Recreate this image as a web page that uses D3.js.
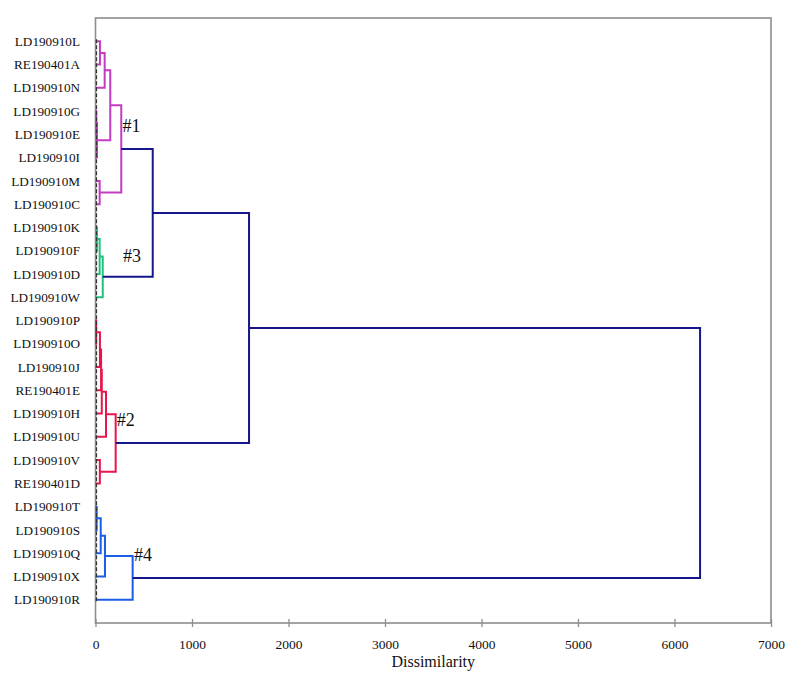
<!DOCTYPE html>
<html><head><meta charset="utf-8">
<script src="https://cdn.jsdelivr.net/npm/d3@7"></script>
<style>body{margin:0;background:#fff}svg{display:block}text{font-family:"Liberation Serif","Times New Roman",serif;fill:#111}</style>
</head><body><svg id="c" width="790" height="680"></svg>
<script>
// ---- data ----
const leaves = ["LD190910L","RE190401A","LD190910N","LD190910G","LD190910E","LD190910I","LD190910M","LD190910C",
  "LD190910K","LD190910F","LD190910D","LD190910W",
  "LD190910P","LD190910O","LD190910J","RE190401E","LD190910H","LD190910U","LD190910V","RE190401D",
  "LD190910T","LD190910S","LD190910Q","LD190910X","LD190910R"];
// merges: [childA, childB, dissimilarity, group]; children are leaf names or "m<index>"
const merges = [
  ["LD190910L","RE190401A",46,"c1"],
  ["m0","LD190910N",95,"c1"],
  ["LD190910G","LD190910E",8,"c1"],
  ["m2","LD190910I",15,"c1"],
  ["m1","m3",153,"c1"],
  ["LD190910M","LD190910C",43,"c1"],
  ["m4","m5",267,"c1"],
  ["LD190910K","LD190910F",15,"c3"],
  ["m7","LD190910D",43,"c3"],
  ["m8","LD190910W",75,"c3"],
  ["m6","m9",593,"top"],
  ["LD190910P","LD190910O",7,"c2"],
  ["m11","LD190910J",46,"c2"],
  ["m12","RE190401E",58,"c2"],
  ["m13","LD190910H",65,"c2"],
  ["m14","LD190910U",109,"c2"],
  ["LD190910V","RE190401D",45,"c2"],
  ["m15","m16",209,"c2"],
  ["m10","m17",1591,"top"],
  ["LD190910T","LD190910S",12,"c4"],
  ["m19","LD190910Q",54,"c4"],
  ["m20","LD190910X",98,"c4"],
  ["m21","LD190910R",385,"c4"],
  ["m18","m22",6265,"top"]
];
const groups = ["c1","c2","c3","c4","top"];
const groupColors = ["#c33bc3","#e8154b","#1fc17e","#1c5de6","#16168c"];
// cluster annotations: [text, dissimilarity, leaf-position (in leaf index units)]
const clusterLabels = [["#1",280,3.9],["#3",285,9.5],["#2",220,16.55],["#4",400,22.35]];
const xTicks = [0,1000,2000,3000,4000,5000,6000,7000];
const xTitle = "Dissimilarity";

// ---- layout ----
const svg = d3.select("#c");
const L = 95.5, R = 771, T = 18, B = 623;
const x = d3.scaleLinear().domain([0,7000]).range([L,R]);
const y = d3.scalePoint().domain(leaves).range([T,B]).padding(1);
const yIdx = d3.scaleLinear().domain([0,leaves.length-1]).range([y(leaves[0]), y(leaves[leaves.length-1])]);
const color = d3.scaleOrdinal().domain(groups).range(groupColors);

// frame
svg.append("rect").attr("x",L).attr("y",T).attr("width",R-L).attr("height",B-T)
  .attr("fill","none").attr("stroke","#8e8e8e").attr("stroke-width",1.6);

// axis
const ax = svg.append("g").attr("transform",`translate(0,${B})`)
  .call(d3.axisBottom(x).tickValues(xTicks).tickFormat(d3.format("d")).tickSize(4).tickPadding(12));
ax.select(".domain").remove();
ax.selectAll(".tick line").attr("stroke","#8e8e8e").attr("stroke-width",1.3).attr("y1",-4);
ax.selectAll(".tick text").style("font-size","13.5px").style("font-family","'Liberation Serif',serif").attr("fill","#111");
svg.append("text").attr("x",(L+R)/2).attr("y",667).attr("text-anchor","middle").style("font-size","16px").text(xTitle);

// leaf labels
svg.append("g").selectAll("text").data(leaves).join("text")
  .attr("x",80).attr("y",d=>y(d)).attr("dy","0.35em").attr("text-anchor","end")
  .style("font-size","13.2px").text(d=>d);

// nodes
const pos = {};
leaves.forEach(n=>pos[n]={x:x(0),y:y(n)});
const segs = [];
merges.forEach((m,i)=>{
  const a=pos[m[0]], b=pos[m[1]], hx=x(m[2]);
  const ny=(a.y+b.y)/2;
  segs.push({d:`M${a.x},${a.y}H${hx}V${b.y}H${b.x}`, g:m[3]});
  pos["m"+i]={x:hx,y:ny};
});
svg.append("g").selectAll("path").data(segs).join("path")
  .attr("d",d=>d.d).attr("fill","none").attr("stroke",d=>color(d.g)).attr("stroke-width",2);

// dashed leaf baseline
svg.append("line").attr("x1",x(0)+1).attr("x2",x(0)+1)
  .attr("y1",y(leaves[0])-2).attr("y2",y(leaves[leaves.length-1])+2)
  .attr("stroke","#333").attr("stroke-width",1.2).attr("stroke-dasharray","4,2");

// cluster labels
svg.append("g").selectAll("text").data(clusterLabels).join("text")
  .attr("x",d=>x(d[1])).attr("y",d=>yIdx(d[2])).style("font-size","18px").text(d=>d[0]);
</script></body></html>
